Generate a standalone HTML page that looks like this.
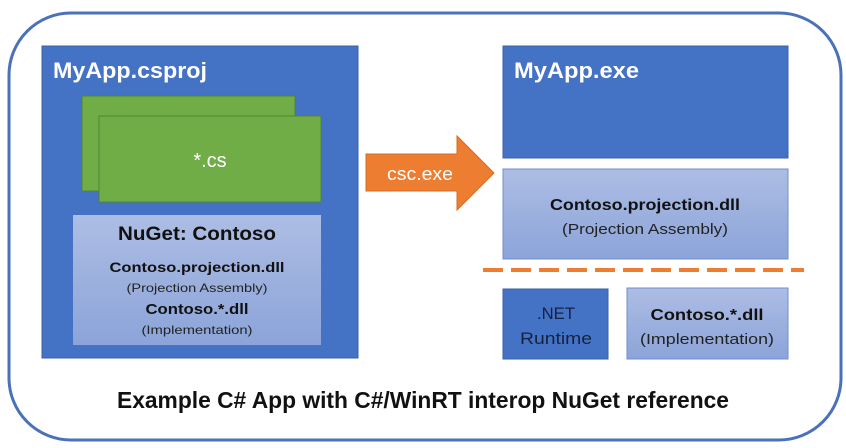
<!DOCTYPE html>
<html><head><meta charset="utf-8"><style>body{margin:0;background:#fff}svg{display:block}text{font-family:"Liberation Sans",sans-serif}</style></head><body>
<svg width="846" height="448" viewBox="0 0 846 448" xmlns="http://www.w3.org/2000/svg">
<defs>
<linearGradient id="g" x1="0" y1="0" x2="0" y2="1"><stop offset="0" stop-color="#adbde4"/><stop offset="1" stop-color="#8ca4d9"/></linearGradient>
</defs>
<rect x="9" y="13" width="832" height="427" rx="62" fill="#fff" stroke="#4a72b8" stroke-width="3"/>
<rect x="42" y="46" width="316" height="312" fill="#4472c4" stroke="#3b62a8" stroke-width="1"/>
<text x="53" y="78" font-size="22" font-weight="bold" fill="#fff" textLength="154" lengthAdjust="spacingAndGlyphs">MyApp.csproj</text>
<rect x="82" y="96" width="213" height="95" fill="#70ad47" stroke="#548235" stroke-width="1"/>
<rect x="99" y="116" width="222" height="86" fill="#70ad47" stroke="#548235" stroke-width="1"/>
<text x="210" y="167" font-size="20" fill="#fff" text-anchor="middle">*.cs</text>
<rect x="73" y="215" width="248" height="130" fill="url(#g)"/>
<text x="197" y="240" font-size="19" font-weight="bold" fill="#111" text-anchor="middle" textLength="158" lengthAdjust="spacingAndGlyphs">NuGet: Contoso</text>
<text x="197" y="272" font-size="14" font-weight="bold" fill="#111" text-anchor="middle" textLength="175" lengthAdjust="spacingAndGlyphs">Contoso.projection.dll</text>
<text x="197" y="292" font-size="12" fill="#222" text-anchor="middle" textLength="141" lengthAdjust="spacingAndGlyphs">(Projection Assembly)</text>
<text x="197" y="314" font-size="15" font-weight="bold" fill="#111" text-anchor="middle" textLength="103" lengthAdjust="spacingAndGlyphs">Contoso.*.dll</text>
<text x="197" y="334" font-size="12" fill="#222" text-anchor="middle" textLength="111" lengthAdjust="spacingAndGlyphs">(Implementation)</text>
<polygon points="366,154 457,154 457,136 494,173 457,210 457,191 366,191" fill="#ed7d31" stroke="#d56b22" stroke-width="1"/>
<text x="420" y="180" font-size="18" fill="#fff" text-anchor="middle" textLength="66" lengthAdjust="spacingAndGlyphs">csc.exe</text>
<rect x="503" y="46" width="285" height="112" fill="#4472c4" stroke="#3b62a8" stroke-width="1"/>
<text x="514" y="78" font-size="22" font-weight="bold" fill="#fff" textLength="125" lengthAdjust="spacingAndGlyphs">MyApp.exe</text>
<rect x="503" y="169" width="285" height="90" fill="url(#g)" stroke="#6f8fcf" stroke-width="1"/>
<text x="645" y="210" font-size="16" font-weight="bold" fill="#111" text-anchor="middle" textLength="190" lengthAdjust="spacingAndGlyphs">Contoso.projection.dll</text>
<text x="645" y="234" font-size="15" fill="#222" text-anchor="middle" textLength="166" lengthAdjust="spacingAndGlyphs">(Projection Assembly)</text>
<line x1="483" y1="270" x2="804" y2="270" stroke="#ed7d31" stroke-width="4" stroke-dasharray="20,8"/>
<rect x="503" y="289" width="105" height="70" fill="#4472c4" stroke="#3b62a8" stroke-width="1"/>
<text x="556" y="319" font-size="17" fill="#15223f" text-anchor="middle" textLength="38" lengthAdjust="spacingAndGlyphs">.NET</text>
<text x="556" y="344" font-size="17" fill="#15223f" text-anchor="middle" textLength="72" lengthAdjust="spacingAndGlyphs">Runtime</text>
<rect x="627" y="288" width="161" height="71" fill="url(#g)" stroke="#6f8fcf" stroke-width="1"/>
<text x="707" y="320" font-size="16" font-weight="bold" fill="#111" text-anchor="middle" textLength="113" lengthAdjust="spacingAndGlyphs">Contoso.*.dll</text>
<text x="707" y="344" font-size="15" fill="#222" text-anchor="middle" textLength="134" lengthAdjust="spacingAndGlyphs">(Implementation)</text>
<text x="423" y="408" font-size="23" fill="#111" text-anchor="middle" textLength="612" lengthAdjust="spacingAndGlyphs" style="font-weight:bold">Example C# App with C#/WinRT interop NuGet reference</text>
</svg>
</body></html>
